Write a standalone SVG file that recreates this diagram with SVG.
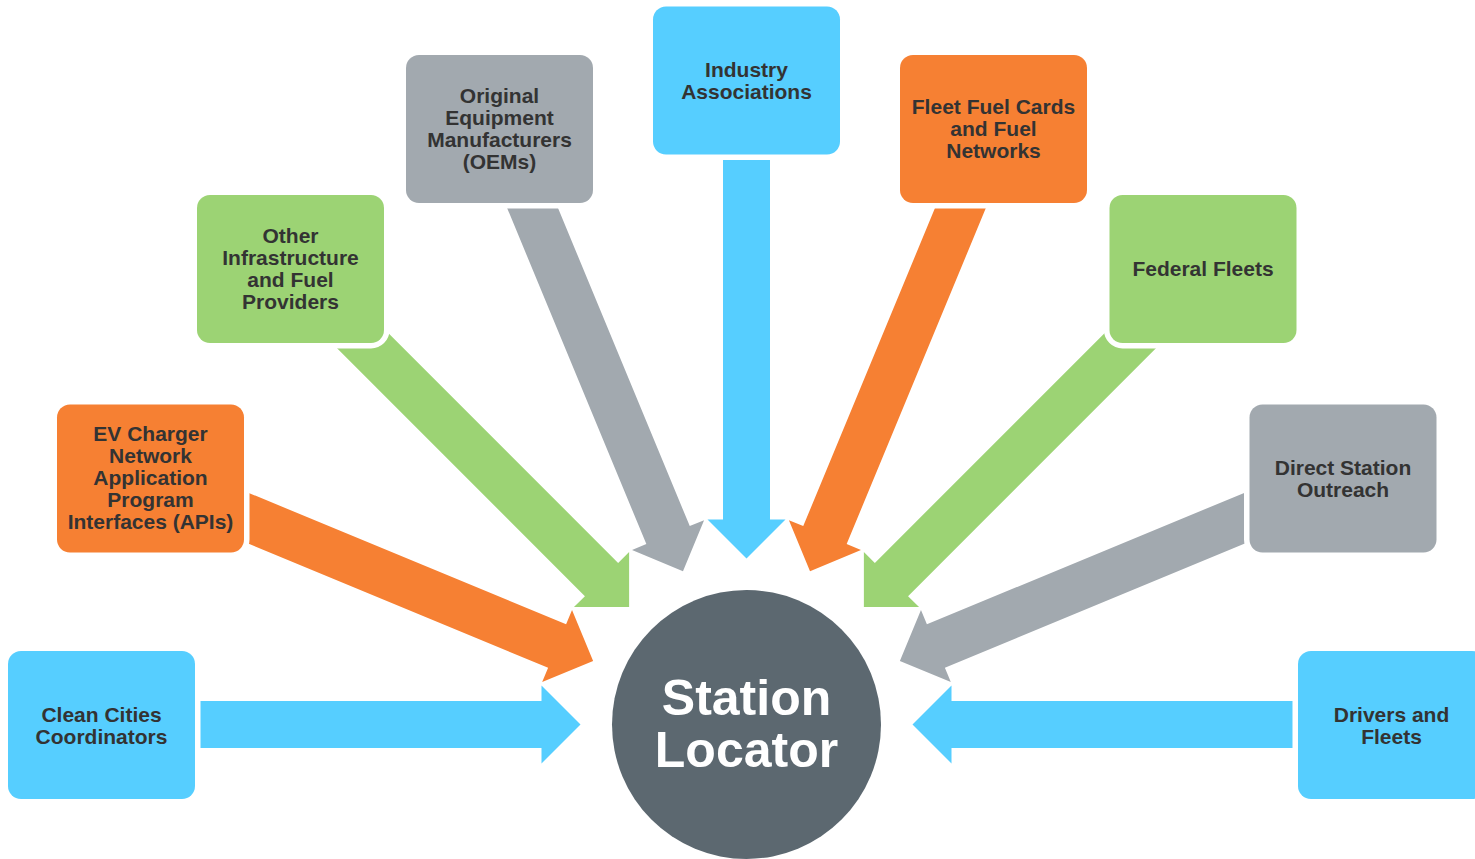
<svg xmlns="http://www.w3.org/2000/svg" width="1475" height="859" viewBox="0 0 1475 859">
<style>
.box{stroke:#fff;stroke-width:11;paint-order:stroke}
.blue{fill:#56CEFF}.orange{fill:#F68033}.green{fill:#9CD374}.gray{fill:#A2A9AF}
.lbl{font-family:"Liberation Sans",Arial,sans-serif;font-weight:bold;font-size:21px;fill:#333;text-anchor:middle}
.big{font-family:"Liberation Sans",Arial,sans-serif;font-weight:bold;font-size:50px;fill:#fff;text-anchor:middle}
</style>
<defs>
<path id="arr" d="M-645,-23.5 L-205,-23.5 L-205,-39 L-166,0 L-205,39 L-205,23.5 L-645,23.5 Z"/>
</defs>
<rect width="1475" height="859" fill="#fff"/>
<g id="connectors" transform="translate(746.5,724.5)">
<use href="#arr" class="blue" transform="rotate(0)"/>
<use href="#arr" class="orange" transform="rotate(22.5)"/>
<use href="#arr" class="green" transform="rotate(45)"/>
<use href="#arr" class="gray" transform="rotate(67.5)"/>
<use href="#arr" class="blue" transform="rotate(90)"/>
<use href="#arr" class="orange" transform="rotate(112.5)"/>
<use href="#arr" class="green" transform="rotate(135)"/>
<use href="#arr" class="gray" transform="rotate(157.5)"/>
<use href="#arr" class="blue" transform="rotate(180)"/>
</g>
<g id="clean-cities">
<rect class="box blue" x="8" y="651" width="187" height="148" rx="13"/>
<text class="lbl" x="101.5"><tspan x="101.5" y="721.5">Clean Cities</tspan><tspan x="101.5" y="743.5">Coordinators</tspan></text>
</g>
<g id="ev-charger">
<rect class="box orange" x="57" y="404.5" width="187" height="148" rx="13"/>
<text class="lbl"><tspan x="150.5" y="441">EV Charger</tspan><tspan x="150.5" y="463">Network</tspan><tspan x="150.5" y="485">Application</tspan><tspan x="150.5" y="507">Program</tspan><tspan x="150.5" y="529">Interfaces (APIs)</tspan></text>
</g>
<g id="other-infrastructure">
<rect class="box green" x="197" y="195" width="187" height="148" rx="13"/>
<text class="lbl"><tspan x="290.5" y="243">Other</tspan><tspan x="290.5" y="265">Infrastructure</tspan><tspan x="290.5" y="287">and Fuel</tspan><tspan x="290.5" y="309">Providers</tspan></text>
</g>
<g id="oems">
<rect class="box gray" x="406" y="55" width="187" height="148" rx="13"/>
<text class="lbl"><tspan x="499.5" y="103">Original</tspan><tspan x="499.5" y="125">Equipment</tspan><tspan x="499.5" y="147">Manufacturers</tspan><tspan x="499.5" y="169">(OEMs)</tspan></text>
</g>
<g id="industry-associations">
<rect class="box blue" x="653" y="6.5" width="187" height="148" rx="13"/>
<text class="lbl"><tspan x="746.5" y="76.5">Industry</tspan><tspan x="746.5" y="98.5">Associations</tspan></text>
</g>
<g id="fleet-fuel-cards">
<rect class="box orange" x="900" y="55" width="187" height="148" rx="13"/>
<text class="lbl"><tspan x="993.5" y="113.5">Fleet Fuel Cards</tspan><tspan x="993.5" y="135.5">and Fuel</tspan><tspan x="993.5" y="157.5">Networks</tspan></text>
</g>
<g id="federal-fleets">
<rect class="box green" x="1109.5" y="195" width="187" height="148" rx="13"/>
<text class="lbl"><tspan x="1203" y="276">Federal Fleets</tspan></text>
</g>
<g id="direct-station-outreach">
<rect class="box gray" x="1249.5" y="404.5" width="187" height="148" rx="13"/>
<text class="lbl"><tspan x="1343" y="474.5">Direct Station</tspan><tspan x="1343" y="496.5">Outreach</tspan></text>
</g>
<g id="drivers-fleets">
<rect class="box blue" x="1298" y="651" width="187" height="148" rx="13"/>
<text class="lbl"><tspan x="1391.5" y="721.5">Drivers and</tspan><tspan x="1391.5" y="743.5">Fleets</tspan></text>
</g>
<g id="station-locator">
<circle cx="746.5" cy="724.5" r="134.5" fill="#5C6870"/>
<text class="big"><tspan x="746.5" y="715">Station</tspan><tspan x="746.5" y="767">Locator</tspan></text>
</g>
</svg>
